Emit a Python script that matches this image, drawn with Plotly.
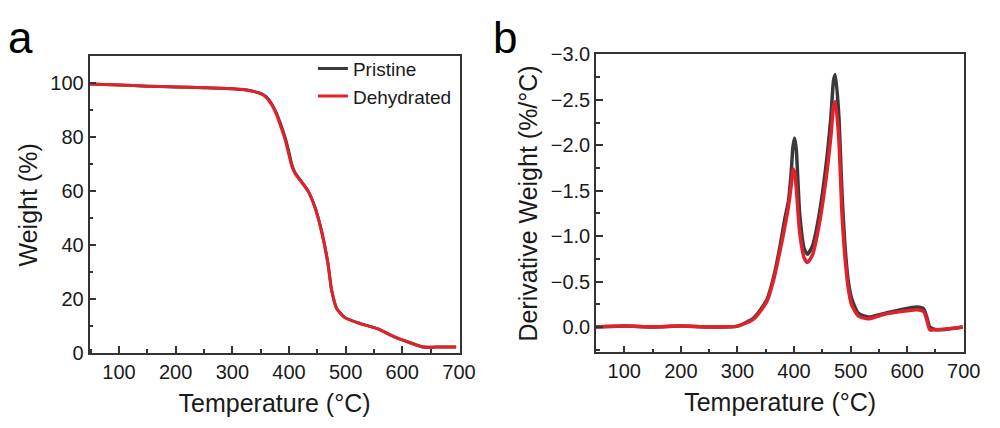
import plotly.graph_objects as go

# ---- Panel a: TGA (Weight %) ----
tga_temp = [48, 100, 150, 200, 250, 300, 330, 350, 360, 370, 378, 386, 392, 400, 405, 411, 422, 434, 446, 458, 469, 475, 484, 498, 527, 556, 585, 614, 637, 660, 695]
tga_pristine = [99.8, 99.4, 99.0, 98.7, 98.4, 98.0, 97.4, 96.3, 95.0, 92.2, 88.9, 84.5, 80.8, 74.5, 70.0, 66.8, 63.6, 60.0, 54.0, 44.8, 33.0, 23.7, 16.7, 13.3, 10.9, 9.1, 6.2, 3.9, 2.3, 2.3, 2.3]
tga_dehydrated = [99.8, 99.4, 99.0, 98.7, 98.4, 98.0, 97.4, 96.2, 94.8, 91.9, 88.4, 83.7, 80.0, 73.5, 69.3, 66.5, 63.5, 60.0, 54.0, 44.8, 33.0, 23.7, 16.7, 13.3, 10.9, 9.1, 6.2, 3.9, 2.3, 2.3, 2.3]

# ---- Panel b: DTG (Derivative weight %/°C) ----
dtg_temp = [50, 100, 150, 200, 250, 300, 329, 352, 364, 375, 384, 390, 395, 398, 401, 404, 410, 418, 424, 433, 444, 456, 465, 470, 473, 479, 485, 491, 496, 502, 514, 531, 560, 589, 617, 629, 635, 640, 651, 675, 698]
dtg_pristine = [0.0, -0.01, 0.0, -0.01, 0.0, -0.01, -0.10, -0.30, -0.55, -0.88, -1.20, -1.38, -1.70, -1.98, -2.08, -1.95, -1.25, -0.86, -0.80, -0.90, -1.22, -1.75, -2.30, -2.72, -2.78, -2.35, -1.45, -0.82, -0.50, -0.31, -0.15, -0.11, -0.15, -0.19, -0.22, -0.20, -0.10, 0.0, 0.03, 0.02, 0.0]
dtg_dehydrated = [0.0, -0.01, 0.0, -0.01, 0.0, -0.01, -0.09, -0.28, -0.52, -0.83, -1.11, -1.32, -1.56, -1.74, -1.70, -1.53, -1.04, -0.76, -0.71, -0.80, -1.11, -1.60, -2.09, -2.43, -2.48, -2.09, -1.22, -0.70, -0.42, -0.24, -0.12, -0.09, -0.14, -0.17, -0.19, -0.17, -0.07, 0.03, 0.03, 0.02, 0.0]

x_ticks = [100, 200, 300, 400, 500, 600, 700]
tga_yticks = [0, 20, 40, 60, 80, 100]
dtg_yticks = [0.0, -0.5, -1.0, -1.5, -2.0, -2.5, -3.0]

BLACK = "#3a3a3a"
RED = "#e2222b"
FONT = "Liberation Sans, Arial, sans-serif"

fig = go.Figure()
fig.add_trace(go.Scatter(x=tga_temp, y=tga_pristine, mode="lines", name="Pristine",
                         line=dict(color=BLACK, width=3, shape="spline", smoothing=0.6),
                         xaxis="x", yaxis="y"))
fig.add_trace(go.Scatter(x=tga_temp, y=tga_dehydrated, mode="lines", name="Dehydrated",
                         line=dict(color=RED, width=3, shape="spline", smoothing=0.6),
                         xaxis="x", yaxis="y"))
fig.add_trace(go.Scatter(x=dtg_temp, y=dtg_pristine, mode="lines", name="Pristine", showlegend=False,
                         line=dict(color=BLACK, width=3.5, shape="spline", smoothing=0.6),
                         xaxis="x2", yaxis="y2"))
fig.add_trace(go.Scatter(x=dtg_temp, y=dtg_dehydrated, mode="lines", name="Dehydrated", showlegend=False,
                         line=dict(color=RED, width=3.5, shape="spline", smoothing=0.6),
                         xaxis="x2", yaxis="y2"))

axis_common = dict(showline=True, linecolor="#333333", linewidth=1.6, mirror=True,
                   ticks="inside", ticklen=7, tickwidth=1.5, tickcolor="#333333",
                   showgrid=False, zeroline=False,
                   tickfont=dict(family=FONT, size=20, color="#1a1a1a"),
                   title_font=dict(family=FONT, size=25, color="#1a1a1a"))

fig.update_layout(
    width=1000, height=428,
    margin=dict(l=0, r=0, t=0, b=0),
    paper_bgcolor="white", plot_bgcolor="white",
    font=dict(family=FONT, color="#1a1a1a"),
    xaxis=dict(domain=[0.091, 0.467], range=[48, 701], tickvals=x_ticks,
               minor=dict(ticks="inside", ticklen=4, dtick=50, tick0=50, tickcolor="#333333", tickwidth=1.5),
               title=dict(text="Temperature (°C)", standoff=12), anchor="y", **axis_common),
    yaxis=dict(domain=[0.157, 0.888], range=[0, 110], tickvals=tga_yticks,
               minor=dict(ticks="inside", ticklen=4, dtick=10, tick0=10, tickcolor="#333333", tickwidth=1.5),
               title=dict(text="Weight (%)", standoff=6), anchor="x", ticklabelstandoff=0, **axis_common),
    xaxis2=dict(domain=[0.6057, 0.980], range=[50, 701], tickvals=x_ticks,
                minor=dict(ticks="inside", ticklen=4, dtick=50, tick0=50, tickcolor="#333333", tickwidth=1.5),
                title=dict(text="Temperature (°C)", standoff=12), anchor="y2", **axis_common),
    yaxis2=dict(domain=[0.159, 0.893], range=[0.28, -3.0], tickvals=dtg_yticks, tickformat=".1f",
                minor=dict(ticks="inside", ticklen=4, dtick=0.25, tick0=0.25, tickcolor="#333333", tickwidth=1.5),
                title=dict(text="Derivative Weight (%/°C)", standoff=6), anchor="x2", ticklabelstandoff=0, **axis_common),
    legend=dict(x=0.318, y=0.905, xanchor="left", yanchor="top", bgcolor="rgba(0,0,0,0)",
                font=dict(family=FONT, size=19, color="#1a1a1a"), tracegroupgap=0),
    annotations=[
        dict(text="a", x=0.021, y=1 - 45 / 428, xref="paper", yref="paper", xanchor="center", yanchor="bottom",
             showarrow=False, font=dict(family=FONT, size=44, color="black"), yshift=-10),
        dict(text="b", x=0.513, y=1 - 45 / 428, xref="paper", yref="paper", xanchor="center", yanchor="bottom",
             showarrow=False, font=dict(family=FONT, size=44, color="black"), yshift=-10),
    ],
)

fig.write_html("out.html")
